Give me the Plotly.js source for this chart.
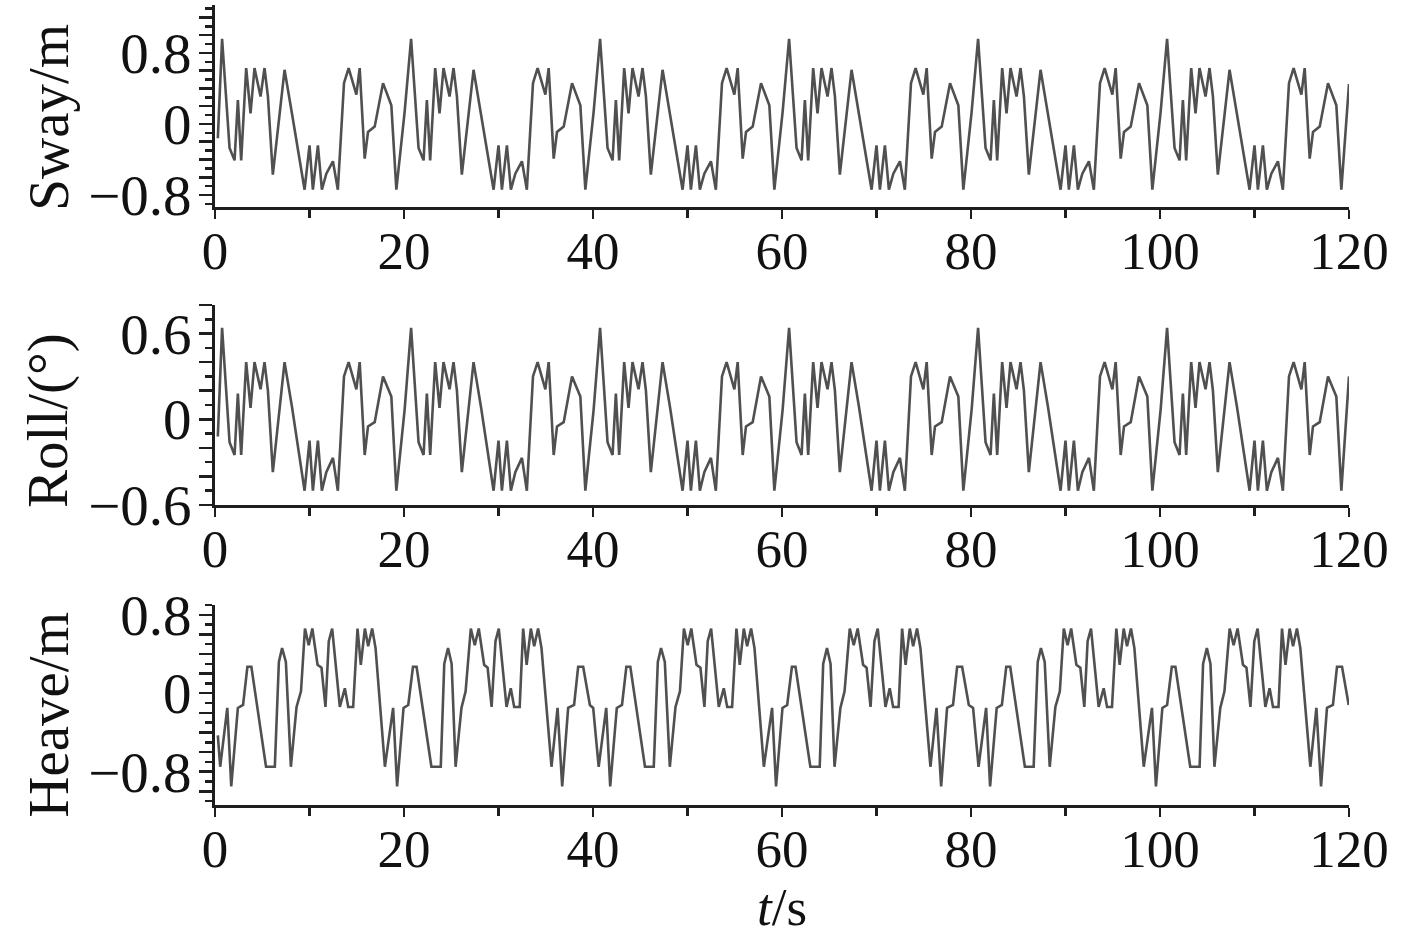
<!DOCTYPE html>
<html>
<head>
<meta charset="utf-8">
<script src="https://cdn.plot.ly/plotly-3.0.1.min.js"></script>
<style>html,body{margin:0;padding:0;background:#fff;}#chart{width:1417px;height:936px;}</style>
</head>
<body>
<div id="chart"></div>
<script>
// Time stamps (s) of the sway / roll record
var timeSwayRoll = [
0.3, 0.75, 1.54, 2.07, 2.42, 2.77, 3.3, 3.76, 4.18, 4.82, 5.24, 5.6, 6.12, 7.36, 8.14, 9.48, 10.0, 10.36, 10.89, 11.31, 11.78, 12.48, 13.0, 13.65, 14.14, 14.96, 15.31, 15.84, 16.19, 16.9, 17.78, 18.66, 19.19,
20.07, 20.75, 21.54, 22.07, 22.42, 22.77, 23.3, 23.76, 24.18, 24.82, 25.24, 25.6, 26.12, 27.36, 28.14, 29.48, 30.0, 30.36, 30.89, 31.31, 31.78, 32.48, 33.0, 33.65, 34.14, 34.96, 35.31, 35.84, 36.19, 36.9, 37.78, 38.66, 39.19,
40.07, 40.75, 41.54, 42.07, 42.42, 42.77, 43.3, 43.76, 44.18, 44.82, 45.24, 45.6, 46.12, 47.36, 48.14, 49.48, 50.0, 50.36, 50.89, 51.31, 51.78, 52.48, 53.0, 53.65, 54.14, 54.96, 55.31, 55.84, 56.19, 56.9, 57.78, 58.66, 59.19,
60.07, 60.75, 61.54, 62.07, 62.42, 62.77, 63.3, 63.76, 64.18, 64.82, 65.24, 65.6, 66.12, 67.36, 68.14, 69.48, 70.0, 70.36, 70.89, 71.31, 71.78, 72.48, 73.0, 73.65, 74.14, 74.96, 75.31, 75.84, 76.19, 76.9, 77.78, 78.66, 79.19,
80.07, 80.75, 81.54, 82.07, 82.42, 82.77, 83.3, 83.76, 84.18, 84.82, 85.24, 85.6, 86.12, 87.36, 88.14, 89.48, 90.0, 90.36, 90.89, 91.31, 91.78, 92.48, 93.0, 93.65, 94.14, 94.96, 95.31, 95.84, 96.19, 96.9, 97.78, 98.66, 99.19,
100.07, 100.75, 101.54, 102.07, 102.42, 102.77, 103.3, 103.76, 104.18, 104.82, 105.24, 105.6, 106.12, 107.36, 108.14, 109.48, 110.0, 110.36, 110.89, 111.31, 111.78, 112.48, 113.0, 113.65, 114.14, 114.96, 115.31, 115.84, 116.19, 116.9, 117.78, 118.66, 119.19,
120.0
];

// Sway (m)
var sway = [
-0.16, 0.96, -0.27, -0.41, 0.27, -0.41, 0.63, 0.12, 0.63, 0.31, 0.63, 0.31, -0.57, 0.61, 0.12, -0.74, -0.24, -0.74, -0.24, -0.74, -0.56, -0.42, -0.74, 0.46, 0.63, 0.33, 0.63, -0.39, -0.09, -0.03, 0.46, 0.21, -0.74,
0.14, 0.96, -0.27, -0.41, 0.27, -0.41, 0.63, 0.12, 0.63, 0.31, 0.63, 0.31, -0.57, 0.61, 0.12, -0.74, -0.24, -0.74, -0.24, -0.74, -0.56, -0.42, -0.74, 0.46, 0.63, 0.33, 0.63, -0.39, -0.09, -0.03, 0.46, 0.21, -0.74,
0.14, 0.96, -0.27, -0.41, 0.27, -0.41, 0.63, 0.12, 0.63, 0.31, 0.63, 0.31, -0.57, 0.61, 0.12, -0.74, -0.24, -0.74, -0.24, -0.74, -0.56, -0.42, -0.74, 0.46, 0.63, 0.33, 0.63, -0.39, -0.09, -0.03, 0.46, 0.21, -0.74,
0.14, 0.96, -0.27, -0.41, 0.27, -0.41, 0.63, 0.12, 0.63, 0.31, 0.63, 0.31, -0.57, 0.61, 0.12, -0.74, -0.24, -0.74, -0.24, -0.74, -0.56, -0.42, -0.74, 0.46, 0.63, 0.33, 0.63, -0.39, -0.09, -0.03, 0.46, 0.21, -0.74,
0.14, 0.96, -0.27, -0.41, 0.27, -0.41, 0.63, 0.12, 0.63, 0.31, 0.63, 0.31, -0.57, 0.61, 0.12, -0.74, -0.24, -0.74, -0.24, -0.74, -0.56, -0.42, -0.74, 0.46, 0.63, 0.33, 0.63, -0.39, -0.09, -0.03, 0.46, 0.21, -0.74,
0.14, 0.96, -0.27, -0.41, 0.27, -0.41, 0.63, 0.12, 0.63, 0.31, 0.63, 0.31, -0.57, 0.61, 0.12, -0.74, -0.24, -0.74, -0.24, -0.74, -0.56, -0.42, -0.74, 0.46, 0.63, 0.33, 0.63, -0.39, -0.09, -0.03, 0.46, 0.21, -0.74,
0.45
];

// Roll (deg)
var roll = [
-0.12, 0.64, -0.16, -0.25, 0.18, -0.25, 0.40, 0.08, 0.40, 0.21, 0.40, 0.20, -0.37, 0.40, 0.09, -0.50, -0.15, -0.50, -0.15, -0.50, -0.37, -0.27, -0.50, 0.30, 0.40, 0.21, 0.40, -0.25, -0.05, -0.02, 0.30, 0.16, -0.50,
0.07, 0.64, -0.16, -0.25, 0.18, -0.25, 0.40, 0.08, 0.40, 0.21, 0.40, 0.20, -0.37, 0.40, 0.09, -0.50, -0.15, -0.50, -0.15, -0.50, -0.37, -0.27, -0.50, 0.30, 0.40, 0.21, 0.40, -0.25, -0.05, -0.02, 0.30, 0.16, -0.50,
0.07, 0.64, -0.16, -0.25, 0.18, -0.25, 0.40, 0.08, 0.40, 0.21, 0.40, 0.20, -0.37, 0.40, 0.09, -0.50, -0.15, -0.50, -0.15, -0.50, -0.37, -0.27, -0.50, 0.30, 0.40, 0.21, 0.40, -0.25, -0.05, -0.02, 0.30, 0.16, -0.50,
0.07, 0.64, -0.16, -0.25, 0.18, -0.25, 0.40, 0.08, 0.40, 0.21, 0.40, 0.20, -0.37, 0.40, 0.09, -0.50, -0.15, -0.50, -0.15, -0.50, -0.37, -0.27, -0.50, 0.30, 0.40, 0.21, 0.40, -0.25, -0.05, -0.02, 0.30, 0.16, -0.50,
0.07, 0.64, -0.16, -0.25, 0.18, -0.25, 0.40, 0.08, 0.40, 0.21, 0.40, 0.20, -0.37, 0.40, 0.09, -0.50, -0.15, -0.50, -0.15, -0.50, -0.37, -0.27, -0.50, 0.30, 0.40, 0.21, 0.40, -0.25, -0.05, -0.02, 0.30, 0.16, -0.50,
0.07, 0.64, -0.16, -0.25, 0.18, -0.25, 0.40, 0.08, 0.40, 0.21, 0.40, 0.20, -0.37, 0.40, 0.09, -0.50, -0.15, -0.50, -0.15, -0.50, -0.37, -0.27, -0.50, 0.30, 0.40, 0.21, 0.40, -0.25, -0.05, -0.02, 0.30, 0.16, -0.50,
0.30
];

// Time stamps (s) of the heave record
var timeHeave = [
0.3, 0.55, 1.3, 1.72, 2.42, 2.97, 3.43, 3.85, 5.4, 6.33, 6.76, 7.1, 7.5, 8.03, 8.63, 9.1,
9.52, 9.92, 10.3, 10.85, 11.27, 11.69, 12.04, 12.4, 13.21, 13.74, 14.1, 14.62, 15.08, 15.43, 15.86, 16.21,
16.63, 16.99, 17.98, 18.85, 19.27, 19.95, 20.45, 20.95, 21.33, 22.9, 23.89, 24.26, 24.66, 25.04, 25.46, 26.08,
26.52, 27.07, 27.49, 27.91, 28.48, 28.85, 29.27, 29.68, 30.03, 30.85, 31.3, 31.66, 32.24, 32.61, 32.98, 33.42,
33.78, 34.19, 34.55, 35.61, 36.25, 36.74, 37.37, 38.0, 38.43, 38.96, 39.67,
40.02, 40.6, 41.4, 41.82, 42.52, 43.07, 43.53, 43.95, 45.5, 46.43, 46.86, 47.2, 47.6, 48.13, 48.73, 49.2,
49.62, 50.02, 50.4, 50.95, 51.37, 51.79, 52.14, 52.5, 53.31, 53.84, 54.2, 54.72, 55.18, 55.53, 55.96, 56.31,
56.73, 57.09, 58.08, 58.95, 59.37, 60.05, 60.55, 61.05, 61.43, 63.0, 63.99, 64.36, 64.76, 65.14, 65.56, 66.18,
66.62, 67.17, 67.59, 68.01, 68.58, 68.95, 69.37, 69.78, 70.13, 70.95, 71.4, 71.76, 72.34, 72.71, 73.08, 73.52,
73.88, 74.29, 74.65, 75.71, 76.35, 76.84, 77.47, 78.1, 78.53, 79.06, 79.77,
80.22, 80.8, 81.6, 82.02, 82.72, 83.27, 83.73, 84.15, 85.7, 86.63, 87.06, 87.4, 87.8, 88.33, 88.93, 89.4,
89.82, 90.22, 90.6, 91.15, 91.57, 91.99, 92.34, 92.7, 93.51, 94.04, 94.4, 94.92, 95.38, 95.73, 96.16, 96.51,
96.93, 97.29, 98.28, 99.15, 99.57, 100.25, 100.75, 101.25, 101.63, 103.2, 104.19, 104.56, 104.96, 105.34, 105.76, 106.38,
106.82, 107.37, 107.79, 108.21, 108.78, 109.15, 109.57, 109.98, 110.33, 111.15, 111.6, 111.96, 112.54, 112.91, 113.28, 113.72,
114.08, 114.49, 114.85, 115.91, 116.55, 117.04, 117.67, 118.3, 118.73, 119.26, 119.97
];

// Heave (m)
var heave = [
-0.43, -0.75, -0.15, -0.95, -0.15, -0.12, 0.27, 0.27, -0.75, -0.75, 0.32, 0.46, 0.32, -0.75, -0.14, 0.02,
0.66, 0.49, 0.66, 0.29, 0.26, -0.14, 0.53, 0.66, -0.14, 0.05, -0.14, -0.14, 0.66, 0.29, 0.66, 0.48,
0.66, 0.46, -0.75, -0.15, -0.95, -0.15, -0.12, 0.27, 0.27, -0.75, -0.75, 0.30, 0.46, 0.30, -0.75, -0.15,
0.02, 0.66, 0.49, 0.66, 0.29, 0.26, -0.14, 0.53, 0.66, -0.14, 0.05, -0.14, -0.14, 0.66, 0.29, 0.66,
0.48, 0.66, 0.46, -0.75, -0.15, -0.95, -0.15, -0.12, 0.27, 0.27, -0.12,
-0.15, -0.75, -0.15, -0.95, -0.15, -0.12, 0.27, 0.27, -0.75, -0.75, 0.32, 0.46, 0.32, -0.75, -0.14, 0.02,
0.66, 0.49, 0.66, 0.29, 0.26, -0.14, 0.53, 0.66, -0.14, 0.05, -0.14, -0.14, 0.66, 0.29, 0.66, 0.48,
0.66, 0.46, -0.75, -0.15, -0.95, -0.15, -0.12, 0.27, 0.27, -0.75, -0.75, 0.30, 0.46, 0.30, -0.75, -0.15,
0.02, 0.66, 0.49, 0.66, 0.29, 0.26, -0.14, 0.53, 0.66, -0.14, 0.05, -0.14, -0.14, 0.66, 0.29, 0.66,
0.48, 0.66, 0.46, -0.75, -0.15, -0.95, -0.15, -0.12, 0.27, 0.27, -0.12,
-0.15, -0.75, -0.15, -0.95, -0.15, -0.12, 0.27, 0.27, -0.75, -0.75, 0.32, 0.46, 0.32, -0.75, -0.14, 0.02,
0.66, 0.49, 0.66, 0.29, 0.26, -0.14, 0.53, 0.66, -0.14, 0.05, -0.14, -0.14, 0.66, 0.29, 0.66, 0.48,
0.66, 0.46, -0.75, -0.15, -0.95, -0.15, -0.12, 0.27, 0.27, -0.75, -0.75, 0.30, 0.46, 0.30, -0.75, -0.15,
0.02, 0.66, 0.49, 0.66, 0.29, 0.26, -0.14, 0.53, 0.66, -0.14, 0.05, -0.14, -0.14, 0.66, 0.29, 0.66,
0.48, 0.66, 0.46, -0.75, -0.15, -0.95, -0.15, -0.12, 0.27, 0.27, -0.12
];

// Tick labels
var swayTickVals = [-0.8, -0.6, -0.4, -0.2, 0, 0.2, 0.4, 0.6, 0.8, 1.0, 1.2];
var swayTickText = ['\u22120.8', '', '', '', '0', '', '', '', '0.8', '', ''];
var rollTickVals = [-0.6, -0.4, -0.2, 0, 0.2, 0.4, 0.6, 0.8];
var rollTickText = ['\u22120.6', '', '', '0', '', '', '0.6', ''];
var heaveTickVals = [-1.0, -0.8, -0.6, -0.4, -0.2, 0, 0.2, 0.4, 0.6, 0.8];
var heaveTickText = ['', '\u22120.8', '', '', '', '0', '', '', '', '0.8'];
var timeTickVals = [0, 20, 40, 60, 80, 100, 120];
var timeTickText = ['0', '20', '40', '60', '80', '100', '120'];
var titles = {sway: 'Sway/m', roll: 'Roll/(\u00b0)', heave: 'Heave/m', time: '<i>t</i>/s'};

var FONT = '"Liberation Serif", "Times New Roman", serif';
var AX = '#1e1e1e';
var lineStyle = {color: '#505050', width: 2.6};

var traces = [
  {x: timeSwayRoll, y: sway, type: 'scatter', mode: 'lines', line: lineStyle, xaxis: 'x', yaxis: 'y', hoverinfo: 'x+y'},
  {x: timeSwayRoll, y: roll, type: 'scatter', mode: 'lines', line: lineStyle, xaxis: 'x2', yaxis: 'y2', hoverinfo: 'x+y'},
  {x: timeHeave, y: heave, type: 'scatter', mode: 'lines', line: lineStyle, xaxis: 'x3', yaxis: 'y3', hoverinfo: 'x+y'}
];

function xAxis(anchor, withTitle) {
  var a = {
    anchor: anchor, domain: [0, 1], range: [0, 120],
    tickmode: 'array', tickvals: timeTickVals, ticktext: timeTickText,
    showline: true, linecolor: AX, linewidth: 3,
    ticks: 'outside', ticklen: 9, tickwidth: 2.5, tickcolor: AX,
    minor: {ticks: 'outside', tickmode: 'linear', tick0: 0, dtick: 10, ticklen: 8, tickwidth: 2.5, tickcolor: AX},
    showgrid: false, zeroline: false,
    tickfont: {family: FONT, size: 53, color: '#111'},
    ticklabelstandoff: -14
  };
  if (withTitle) {
    a.title = {text: titles.time, font: {family: FONT, size: 53, color: '#111'}, standoff: 4};
  }
  return a;
}

function yAxis(anchor, domain, range, vals, text) {
  return {
    anchor: anchor, domain: domain, range: range,
    tickmode: 'array', tickvals: vals, ticktext: text,
    showline: true, linecolor: AX, linewidth: 3,
    ticks: 'outside', ticklen: 13, tickwidth: 2.5, tickcolor: AX,
    minor: {ticks: 'outside', tickmode: 'linear', tick0: 0, dtick: 0.1, ticklen: 7, tickwidth: 2.5, tickcolor: AX},
    showgrid: false, zeroline: false,
    tickfont: {family: FONT, size: 57, color: '#111'},
    ticklabelstandoff: -4
  };
}

function yTitle(text, ycenter) {
  return {
    text: text, xref: 'paper', yref: 'paper', x: -0.1475, y: ycenter,
    xanchor: 'center', yanchor: 'middle', textangle: -90, showarrow: false,
    font: {family: FONT, size: 57, color: '#111'}
  };
}

var layout = {
  width: 1417, height: 936,
  margin: {l: 215, r: 68, t: 5, b: 131},
  paper_bgcolor: '#ffffff', plot_bgcolor: '#ffffff',
  showlegend: false,
  xaxis: xAxis('y', false),
  xaxis2: xAxis('y2', false),
  xaxis3: xAxis('y3', true),
  yaxis: yAxis('x', [0.7475, 1.0], [-0.935, 1.34], swayTickVals, swayTickText),
  yaxis2: yAxis('x2', [0.375, 0.625], [-0.6, 0.8], rollTickVals, rollTickText),
  yaxis3: yAxis('x3', [0, 0.25], [-1.14, 0.9], heaveTickVals, heaveTickText),
  annotations: [
    yTitle(titles.sway, 0.86),
    yTitle(titles.roll, 0.481),
    yTitle(titles.heave, 0.1125)
  ]
};

Plotly.newPlot('chart', traces, layout, {displayModeBar: false, staticPlot: true});
</script>
</body>
</html>
